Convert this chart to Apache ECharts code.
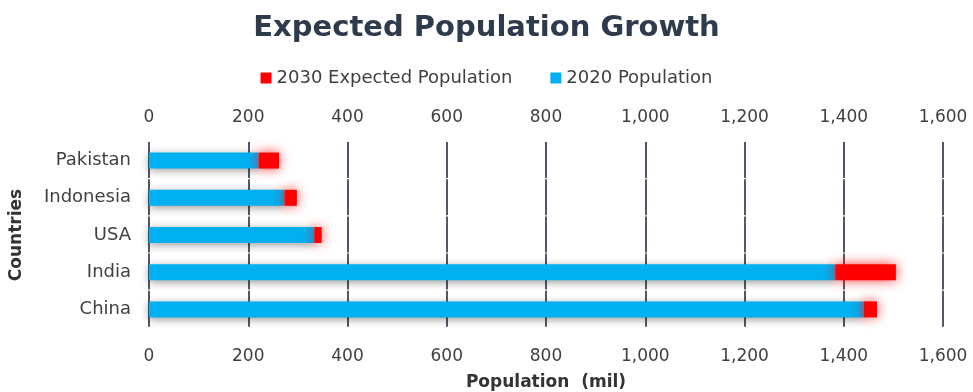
<!DOCTYPE html>
<html><head><meta charset="utf-8">
<script src="https://cdn.jsdelivr.net/npm/echarts@6/dist/echarts.min.js"></script>
<style>html,body{margin:0;padding:0;background:#fff}#c{width:973px;height:392px}</style>
</head><body><div id="c"></div>
<script>
const categories = ['China', 'India', 'USA', 'Indonesia', 'Pakistan'];
const pop2030 = [1467, 1505, 348, 298, 262];
const pop2020 = [1440, 1383, 333, 273, 221];
const xTicks = [0, 200, 400, 600, 800, 1000, 1200, 1400, 1600];

const growth = pop2030.map((v, i) => v - pop2020[i]);
const chart = echarts.init(document.getElementById('c'));
const font = 'DejaVu Sans, Verdana, sans-serif';
const axisLabel = {color: '#404040', fontSize: 17, fontFamily: font, margin: 20,
  formatter: v => v.toLocaleString('en-US')};
chart.setOption({
  animation: false,
  title: {text: 'Expected Population Growth', left: 'center', top: 9,
    textStyle: {fontSize: 29, fontWeight: 'bold', color: '#2e3b4c', fontFamily: font}},
  legend: {top: 64, left: 'center', itemWidth: 11, itemHeight: 11, itemGap: 38,
    textStyle: {fontSize: 18, color: '#404040', fontFamily: font},
    data: [{name: '2030 Expected Population', icon: 'rect'}, {name: '2020 Population', icon: 'rect'}]},
  grid: {left: 147, right: 30, top: 142, height: 186},
  xAxis: [
    {type: 'value', min: xTicks[0], max: xTicks[xTicks.length - 1], interval: 200, position: 'bottom',
      name: 'Population  (mil)', nameLocation: 'middle', nameGap: 46,
      nameTextStyle: {fontSize: 17, fontWeight: 'bold', color: '#333', fontFamily: font},
      axisLabel: axisLabel, axisLine: {show: false}, axisTick: {show: false},
      splitLine: {show: true, lineStyle: {color: '#525866', width: 2, type: [36, 1.2]}}},
    {type: 'value', min: xTicks[0], max: xTicks[xTicks.length - 1], interval: 200, position: 'top',
      axisLabel: Object.assign({}, axisLabel, {margin: 16}), axisLine: {show: false}, axisTick: {show: false}, splitLine: {show: false}}
  ],
  yAxis: {type: 'category', data: categories, name: 'Countries', nameLocation: 'middle', nameGap: 124,
    nameRotate: 90,
    nameTextStyle: {fontSize: 17, fontWeight: 'bold', color: '#333', fontFamily: font},
    axisLabel: {color: '#404040', fontSize: 18, fontFamily: font, margin: 18},
    axisLine: {show: false}, axisTick: {show: false}},
  series: [
    {name: '2020 Population', type: 'bar', data: pop2020, barWidth: 16, stack: 'p',
      itemStyle: {color: '#00b0f0', shadowColor: 'rgba(0,0,0,0.4)', shadowBlur: 8, shadowOffsetY: 2}},
    {name: '2030 Expected Population', type: 'bar', data: growth, barWidth: 16, stack: 'p',
      itemStyle: {color: '#ff0000', shadowColor: 'rgba(255,0,0,0.8)', shadowBlur: 12}}
  ],
  color: ['#00b0f0', '#ff0000']
});
</script></body></html>
